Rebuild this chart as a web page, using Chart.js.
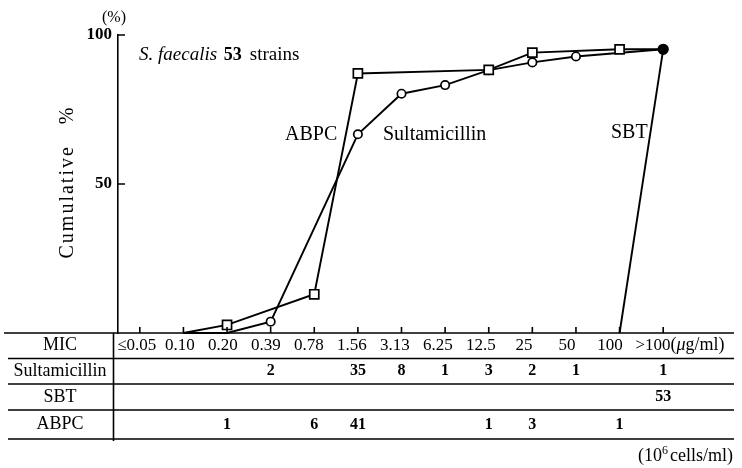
<!DOCTYPE html>
<html>
<head>
<meta charset="utf-8">
<script src="https://cdn.jsdelivr.net/npm/chart.js@4"></script>
<style>
  html, body { margin: 0; padding: 0; background: #fff; }
  #wrap { width: 742px; height: 468px; }
</style>
</head>
<body>
<div id="wrap"><canvas id="micChart" width="742" height="468"></canvas></div>
<script>
const micLabels = ['≤0.05', '0.10', '0.20', '0.39', '0.78', '1.56', '3.13', '6.25', '12.5', '25', '50', '100', '>100'];

// strains per MIC (table rows)
const sultamicillinCounts = [null, null, null, 2, null, 35, 8, 1, 3, 2, 1, null, 1];
const sbtCounts = [null, null, null, null, null, null, null, null, null, null, null, null, 53];
const abpcCounts = [null, null, 1, null, 6, 41, null, null, 1, 3, null, 1, null];

// cumulative % as drawn in the figure
const sultamicillinCum = [null, 0, 0, 3.8, null, 66.7, 80.3, 83.2, 88.2, 90.8, 92.8, null, 95.2];
const sbtCum = [null, null, null, null, null, null, null, null, null, null, null, 0, 95.2];
const abpcCum = [null, 0, 2.7, null, 13.0, 87.1, null, null, 88.3, 94.1, null, 95.2, 95.2];

const yTicks = [50, 100];

const FONT = '"Liberation Serif", "Times New Roman", serif';
const rowLines = [333, 358.5, 384, 410, 439];

const tableRows = [
  { name: 'MIC', values: micLabels },
  { name: 'Sultamicillin', values: sultamicillinCounts },
  { name: 'SBT', values: sbtCounts },
  { name: 'ABPC', values: abpcCounts }
];

function markerSize(counts, r) {
  return ctx => counts[ctx.dataIndex] ? r : 0;
}

const micTable = {
  id: 'micTable',
  afterDraw(chart) {
    const ctx = chart.ctx;
    const xs = chart.scales.x;
    const ys = chart.scales.y;
    const area = chart.chartArea;
    ctx.save();
    ctx.strokeStyle = '#000';
    ctx.fillStyle = '#000';
    ctx.lineWidth = 1.6;

    // table rules, the first one is the x axis
    ctx.beginPath();
    rowLines.forEach((ly, i) => {
      ctx.moveTo(i === 0 ? 4 : 8, ly);
      ctx.lineTo(734, ly);
    });
    ctx.moveTo(113.5, rowLines[0]);
    ctx.lineTo(113.5, rowLines[rowLines.length - 1] + 2);

    // inward tick marks
    micLabels.forEach((l, i) => {
      const px = xs.getPixelForValue(i);
      ctx.moveTo(px, area.bottom);
      ctx.lineTo(px, area.bottom - 6);
    });
    yTicks.forEach(v => {
      const py = ys.getPixelForValue(v);
      ctx.moveTo(area.left, py);
      ctx.lineTo(area.left + 7, py);
    });
    ctx.stroke();

    // table text
    ctx.textBaseline = 'middle';
    tableRows.forEach((row, r) => {
      const cy = (rowLines[r] + rowLines[r + 1]) / 2;
      ctx.textAlign = 'center';
      ctx.font = `18px ${FONT}`;
      ctx.fillText(row.name, 60, cy);
      ctx.font = r === 0 ? `17px ${FONT}` : `bold 16px ${FONT}`;
      row.values.forEach((v, i) => {
        if (v == null) return;
        let px = xs.getPixelForValue(i);
        if (r === 0) px -= 3 + i * 0.6;
        ctx.fillText(String(v), px, cy);
        if (r === 0 && i === micLabels.length - 1) {
          const w = ctx.measureText(String(v)).width;
          ctx.textAlign = 'left';
          ctx.font = `18px ${FONT}`;
          ctx.fillText('(', px + w / 2, cy);
          let ux = px + w / 2 + ctx.measureText('(').width;
          ctx.font = `italic 18px ${FONT}`;
          ctx.fillText('μ', ux, cy);
          ux += ctx.measureText('μ').width;
          ctx.font = `18px ${FONT}`;
          ctx.fillText('g/ml)', ux, cy);
          ctx.textAlign = 'center';
        }
      });
    });

    // cell density note
    ctx.textAlign = 'left';
    const noteY = 456;
    const partA = '(10', partB = 'cells/ml)';
    ctx.font = `18px ${FONT}`;
    const wA = ctx.measureText(partA).width;
    const wB = ctx.measureText(partB).width;
    ctx.font = `12px ${FONT}`;
    const wS = ctx.measureText('6').width + 2;
    const nx = 733 - wA - wS - wB;
    ctx.font = `18px ${FONT}`;
    ctx.fillText(partA, nx, noteY);
    ctx.font = `12px ${FONT}`;
    ctx.fillText('6', nx + wA, noteY - 5);
    ctx.font = `18px ${FONT}`;
    ctx.fillText(partB, nx + wA + wS, noteY);

    // labels inside the plot
    ctx.textAlign = 'center';
    ctx.font = `16px ${FONT}`;
    ctx.fillText('(%)', 114, 18);
    ctx.textAlign = 'left';
    ctx.font = `italic 19px ${FONT}`;
    ctx.fillText('S. faecalis', 139, 55);
    const sw = ctx.measureText('S. faecalis ').width;
    ctx.font = `bold 18px ${FONT}`;
    ctx.fillText('53', 139 + sw + 2, 55);
    const nw = ctx.measureText('53').width;
    ctx.font = `19px ${FONT}`;
    ctx.fillText('strains', 139 + sw + nw + 10, 55);
    ctx.font = `20px ${FONT}`;
    ctx.fillText('ABPC', 285, 135);
    ctx.fillText('Sultamicillin', 383, 135);
    ctx.fillText('SBT', 611, 133);

    // y axis title, spaced out like the print
    ctx.save();
    ctx.translate(68, 182);
    ctx.rotate(-Math.PI / 2);
    ctx.textAlign = 'center';
    ctx.font = `20px ${FONT}`;
    ctx.letterSpacing = '2px';
    ctx.fillText('Cumulative   %', 0, 0);
    ctx.restore();

    ctx.restore();
  }
};

const lineStyle = {
  borderColor: '#000',
  borderWidth: 1.9,
  pointBorderColor: '#000',
  pointBorderWidth: 1.7,
  pointBackgroundColor: '#fff',
  tension: 0,
  spanGaps: true,
  clip: false
};

new Chart(document.getElementById('micChart'), {
  type: 'line',
  data: {
    labels: micLabels,
    datasets: [
      {
        ...lineStyle,
        label: 'ABPC',
        order: 1,
        data: abpcCum,
        pointStyle: 'rect',
        pointRadius: markerSize(abpcCounts, 6.4)
      },
      {
        ...lineStyle,
        label: 'Sultamicillin',
        order: 2,
        data: sultamicillinCum,
        pointStyle: 'circle',
        pointRadius: markerSize(sultamicillinCounts, 4.2)
      },
      {
        ...lineStyle,
        label: 'SBT',
        order: 0,
        data: sbtCum,
        pointStyle: 'circle',
        pointBackgroundColor: '#000',
        pointRadius: markerSize(sbtCounts, 4.8)
      }
    ]
  },
  options: {
    responsive: false,
    animation: false,
    events: [],
    layout: { padding: { top: 35, right: 57, left: 0, bottom: 0 } },
    plugins: {
      legend: { display: false },
      tooltip: { enabled: false }
    },
    scales: {
      x: {
        offset: true,
        grid: { display: false },
        border: { display: false },
        ticks: { display: false },
        afterFit: scale => { scale.height = 135; }
      },
      y: {
        min: 0,
        max: 100,
        afterFit: scale => { scale.width = 118; },
        afterBuildTicks: scale => { scale.ticks = yTicks.map(v => ({ value: v })); },
        grid: { display: false, drawTicks: false },
        border: { display: true, color: '#000', width: 1.6 },
        ticks: {
          color: '#000',
          padding: 6,
          font: { family: FONT, size: 17, weight: 'bold' }
        },
        title: { display: false }
      }
    }
  },
  plugins: [micTable]
});
</script>
</body>
</html>
